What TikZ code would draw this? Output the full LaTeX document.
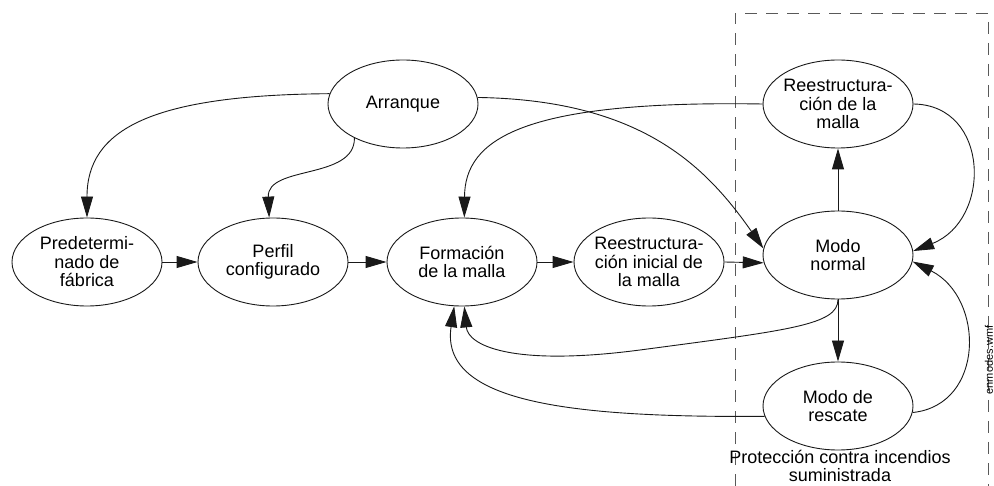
\documentclass[tikz,border=0pt]{standalone}
\usepackage{fontspec}
\setmainfont{Liberation Sans}
\usetikzlibrary{shapes.geometric,arrows.meta}
\begin{document}
\begin{tikzpicture}[x=1pt,y=-1pt,
  state/.style={draw=black!90, line width=0.9pt, ellipse, minimum width=150pt, minimum height=88pt,
    inner xsep=-8pt, inner ysep=0pt, align=center, font=\fontsize{18}{18.5}\selectfont},
  conn/.style={line width=0.9pt, draw=black!90, -{Triangle[length=21pt,width=12pt]}},
  zone/.style={line width=0.9pt, draw=black!65, dash pattern=on 12pt off 9pt}]
\useasboundingbox (0,0) rectangle (994,486);
% protected zone
\draw[zone] (735,486) -- (735,13) -- (988,13) -- (988,486);
\node (prot) [align=center, font=\fontsize{18}{17.5}\selectfont, inner sep=0pt] at (840,466) {Protección contra incendios\\suministrada};
\node (file) [rotate=90, font=\fontsize{11}{11}\selectfont, inner sep=0pt] at (989,360) {enmodes.wmf};
% states
\node[state] (arr)  at (403,104) {Arranque};
\node[state] (pre)  at (87,262)  {Predetermi-\\nado de\\fábrica};
\node[state] (per)  at (273,262) {Perfil\\configurado};
\node[state] (form) at (462,262) {Formación\\de la malla};
\node[state] (ini)  at (649,262) {Reestructura-\\ción inicial de\\la malla};
\node[state] (norm) at (838,255) {Modo\\normal};
\node[state] (rmal) at (838,104) {Reestructura-\\ción de la\\malla};
\node[state] (resc) at (838,406) {Modo de\\rescate};
% connectors
\draw[conn] (arr.172) .. controls (150,95) and (87,130) .. (pre.north);
\draw[conn] (arr.215) .. controls (355,180) and (267,165) .. (per.95);
\draw[conn] (pre.east) -- (per.west);
\draw[conn] (per.east) -- (form.west);
\draw[conn] (form.east) -- (ini.west);
\draw[conn] (ini.east) -- (norm.186);
\draw[conn] (arr.5) .. controls (640,100) and (705,165) .. (norm.175);
\draw[conn] (rmal.west) .. controls (520,100) and (465,140) .. (form.87);
\draw[conn] (norm.north) -- (rmal.south);
\draw[conn] (rmal.east) .. controls (990,105) and (992,220) .. (norm.3);
\draw[conn] (resc.-5) .. controls (985,405) and (985,298) .. (norm.-5);
\draw[conn] (norm.south) -- (resc.north);
\draw[conn] (norm.south) .. controls (838,325) and (790,330) .. (640,350)
  .. controls (510,367) and (468,345) .. (form.-87);
\draw[conn] (resc.188) .. controls (560,418) and (440,400) .. (form.-100);
\end{tikzpicture}
\end{document}
